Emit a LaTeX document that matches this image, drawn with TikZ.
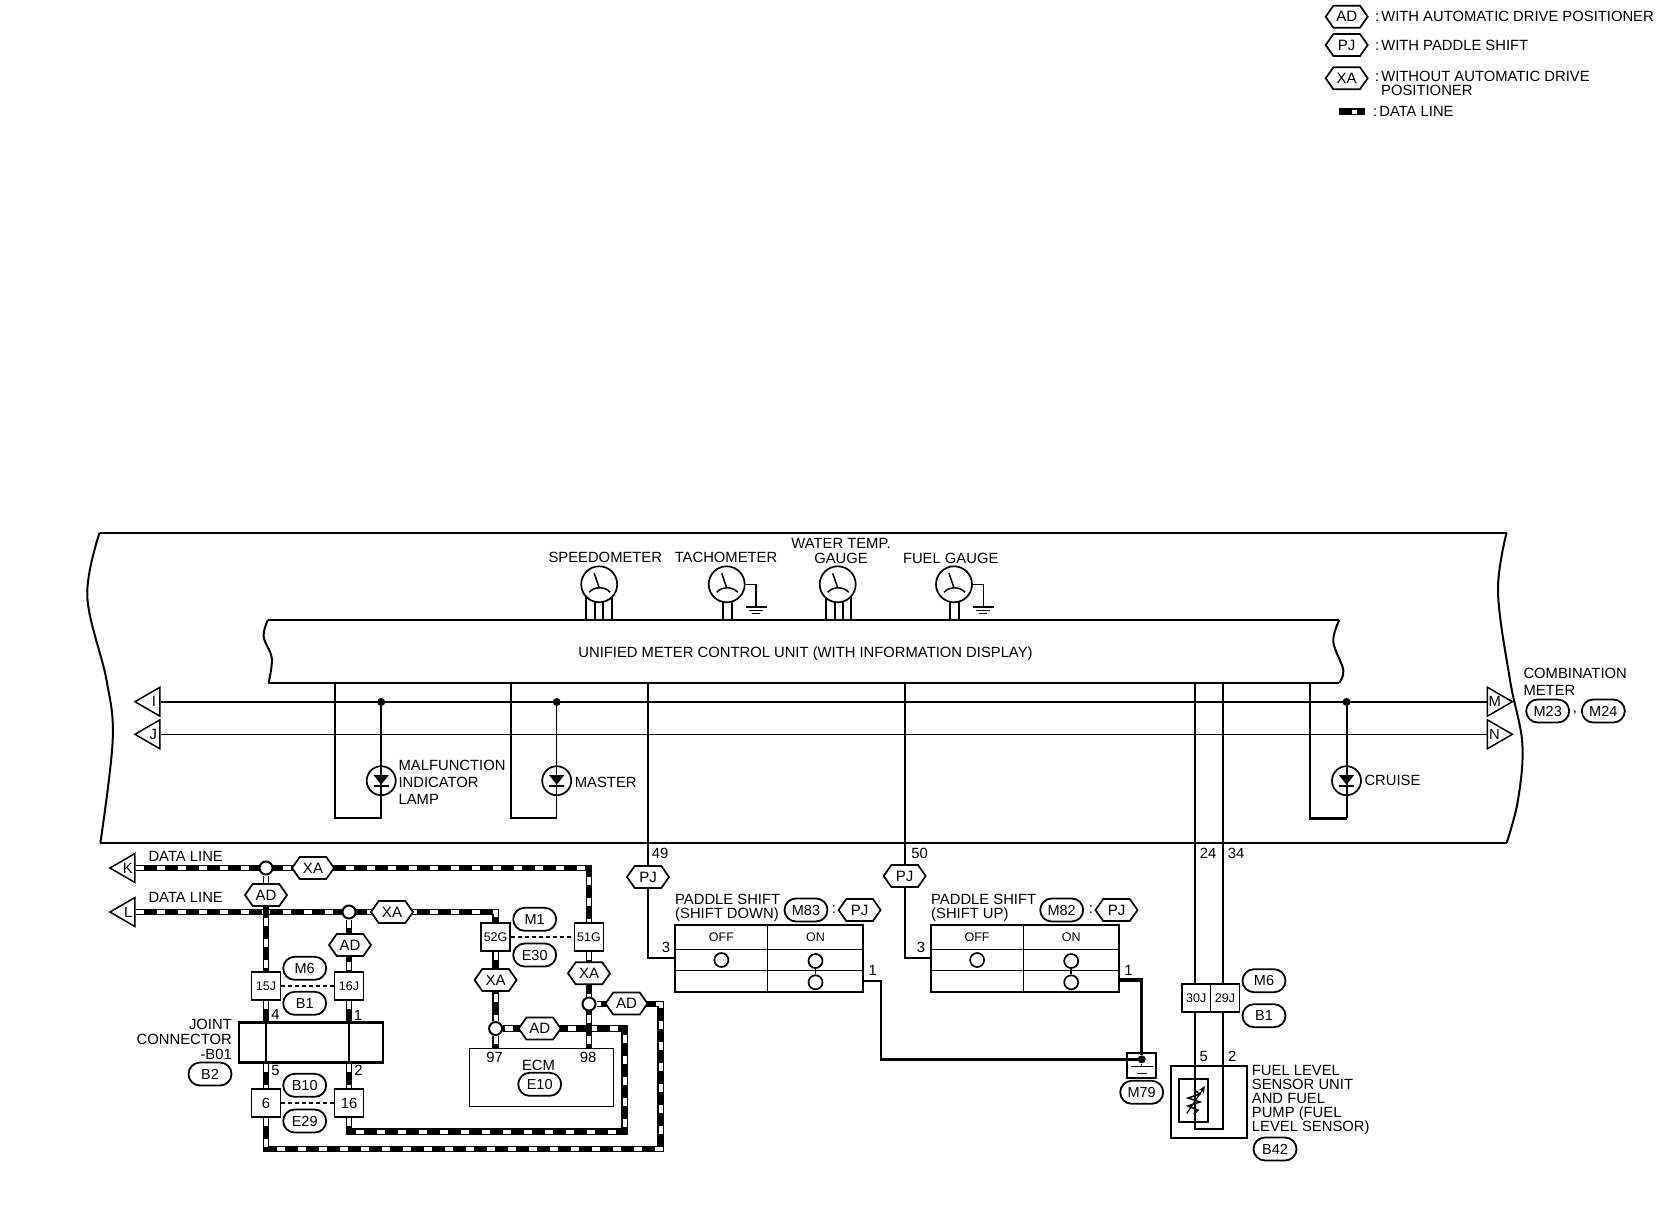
\documentclass[tikz,border=0pt]{standalone}
\usepackage{fontspec}
\setmainfont{Liberation Sans}
\usetikzlibrary{shapes.geometric}
\usetikzlibrary{shapes.misc}
\usetikzlibrary{shapes.symbols}
\usetikzlibrary{backgrounds}
\usetikzlibrary{arrows.meta}

\begin{document}
\begin{tikzpicture}[x=1pt,y=-1pt]
% définition des paramètres
\tikzset{
  every node/.style={inner sep=0pt,font=\fontsize{14.8}{14}\selectfont},
  filfin/.style={color=black,line width=1pt},
  filnormal/.style={color=black,line width=2pt},
  filepais/.style={color=black,line width=3.5pt},
  fildonnee/.style={draw=white,line width=4.2pt,dash pattern=on 8pt off 13pt,preaction={draw=black,line width=6.5pt,solid}},
  filpoint/.style={color=black,line width=1.3pt,dash pattern=on 4pt off 3pt},
  hexoption/.style={draw,fill=white,line width=1.7pt,shape=signal,signal to=east and west,signal pointer angle=110,minimum width=42pt,minimum height=22pt,font=\fontsize{15}{15}\selectfont},
  pastille/.style={draw,fill=white,line width=1.8pt,rounded rectangle,minimum width=43pt,minimum height=23pt,font=\fontsize{14.5}{14}\selectfont},
  boiteconn/.style={draw,fill=white,line width=1.8pt,minimum width=29pt,minimum height=28pt,font=\fontsize{12.5}{12}\selectfont},
  jonction/.style={draw,fill=white,line width=2pt,circle,minimum size=13pt},
  pointnoir/.style={fill=black,circle,minimum size=8pt},
  cadran/.style={draw,fill=white,line width=1.7pt,circle,minimum size=36pt},
  lampe/.style={draw,line width=1.7pt,circle,minimum size=29pt},
  fleche/.style={draw,fill=white,line width=1.5pt,isosceles triangle,isosceles triangle stretches,minimum height=25pt,minimum width=29pt},
  contact/.style={draw,line width=1.7pt,circle,minimum size=14pt},
  txtpetit/.style={font=\fontsize{12.5}{12}\selectfont},
  txtgauche/.style={anchor=west,align=left}
}
\useasboundingbox (0,0) rectangle (1660,1216);
% la légende
\node[hexoption] (legad) at (1346.7,16.7) {AD};
\node[hexoption] (legpj) at (1346.7,45) {PJ};
\node[hexoption] (legxa) at (1346.7,78.3) {XA};
\node[txtgauche] (legtxtad) at (1375,16) {:\hspace{2pt}WITH AUTOMATIC DRIVE POSITIONER};
\node[txtgauche] (legtxtpj) at (1375,45) {:\hspace{2pt}WITH PADDLE SHIFT};
\node[txtgauche] (legtxtxa) at (1375,76) {:\hspace{2pt}WITHOUT AUTOMATIC DRIVE};
\node[txtgauche] (legtxtxb) at (1381,90.7) {POSITIONER};
\node[txtgauche] (legtxtdo) at (1373,111.7) {:\hspace{2pt}DATA LINE};
\coordinate (legdoa) at (1339,111.7);
\coordinate (legdob) at (1365,111.7);
\draw[fildonnee,dash pattern=on 0pt off 13pt on 5pt off 20pt] (legdoa) -- (legdob);
% le cadre du compteur
\draw[filnormal] plot[smooth,tension=0.6] coordinates {(99.6,532.7) (87.3,596.7) (106.5,680) (112.7,740) (100.4,842.7)};
\draw[filnormal] plot[smooth,tension=0.6] coordinates {(1506.6,532.7) (1498,592) (1510,680) (1522.3,743.3) (1518,800) (1506.7,842.7)};
\draw[filnormal] (99.6,532.7) -- (1506.6,532.7);
\draw[filnormal] (100.4,842.7) -- (1506.7,842.7);
% le bloc central
\node (unit) at (803.5,651.35) [minimum width=1071.5pt,minimum height=62.7pt] {};
\node (txtunit) at (805.5,653.3) {UNIFIED METER CONTROL UNIT (WITH INFORMATION DISPLAY)};
\draw[filnormal] (unit.north west) -- (unit.north east);
\draw[filnormal] (unit.south west) -- (unit.south east);
\draw[filnormal] plot[smooth,tension=0.6] coordinates {(267.8,620) (263.7,636.7) (271.8,658.3) (268.6,682.7)};
\draw[filnormal] plot[smooth,tension=0.6] coordinates {(1339.3,620) (1333.3,641.7) (1343.3,670) (1339.3,682.7)};
\foreach \nom/\x in {umil/335,umaster/510.6,u49/648,u50/904.7,u24/1194.5,u34/1222.6,ucruise/1310}
    \coordinate (\nom) at (\x,682.7);
% les cadrans
\node[anchor=center] (txtspeed) at (605.3,557.7) {SPEEDOMETER};
\node[anchor=center] (txttacho) at (726,557.7) {TACHOMETER};
\node[align=center] (txtwater) at (841,550.5) {WATER TEMP.\\[1pt]GAUGE};
\node[anchor=center] (txtfuel) at (950.7,558.3) {FUEL GAUGE};
\foreach \nom/\x in {gspeed/599.2,gtacho/726.7,gwater/837.7,gfuel/954}{
    \node[cadran] (\nom) at (\x,584.3) {};
    \draw[line width=1.5pt] (\nom.center) ++(-5,-11) -- ++(5,14.5);
    \draw[line width=1.5pt] (\nom.center) ++(-10,8) .. controls ++(5,-6) and ++(-5,-6) .. ++(21,0);
}
\foreach \nom in {gtacho,gfuel}{
    \draw[line width=1.3pt] (\nom.east) -- ++(10.5,0) -- ++(0,22.6);
    \draw[line width=1.5pt] (\nom.east) ++(0,22.6) -- ++(21,0);
    \draw[line width=1pt] (\nom.east) ++(3.5,25.9) -- ++(14,0);
    \draw[line width=1pt] (\nom.east) ++(6.5,29.2) -- ++(8,0);
}
% les lampes
\foreach \nom/\x in {lampmil/381.2,lampmaster/556.7,lampcruise/1346.5}{
    \node[lampe] (\nom) at (\x,780.7) {};
    \fill (\nom.center) ++(-7.5,-5.5) -- ++(15,0) -- ++(-7.5,9.5) -- cycle;
    \draw[line width=1.5pt] (\nom.center) ++(-7.5,5.5) -- ++(15,0);
}
\node[txtgauche] (txtmil) at (398.4,782) {MALFUNCTION\\[3pt]INDICATOR\\[3pt]LAMP};
\node[txtgauche] (txtmaster) at (574.7,782) {MASTER};
\node[txtgauche] (txtcruise) at (1364.3,780) {CRUISE};
\node[pointnoir] (dotmil) at (381.2,702) {};
\node[pointnoir] (dotmaster) at (556.7,702) {};
\node[pointnoir] (dotcruise) at (1346.5,702) {};
\coordinate (coinmil) at (381.2,818.3);
\coordinate (coinmaster) at (556.7,818.3);
\coordinate (coincruise) at (1346.5,818.3);
% les fleches
\node[fleche,shape border rotate=180,anchor=apex] (trii) at (133,701.7) {I};
\node[fleche,shape border rotate=180,anchor=apex] (trij) at (133,734.3) {J};
\node[fleche,anchor=apex] (trim) at (1514.3,701.7) {M};
\node[fleche,anchor=apex] (trin) at (1514.3,734.3) {N};
\node[fleche,shape border rotate=180,anchor=apex] (trik) at (108,868) {K};
\node[fleche,shape border rotate=180,anchor=apex] (tril) at (108,912) {L};
\node[txtgauche] (txtcombi) at (1523.3,682) {COMBINATION\\[3pt]METER};
\node[pastille] (pm23) at (1547.7,711) {M23};
\node (virg) at (1575,713) {,};
\node[pastille] (pm24) at (1603.3,711) {M24};
% les lignes de données
\node (txtdataa) at (185.7,856) {DATA LINE};
\node (txtdatab) at (185.7,897.7) {DATA LINE};
\node[jonction] (jk) at (266,868) {};
\node[jonction] (jl) at (349,912) {};
\node[jonction] (jecm) at (495.6,1028.5) {};
\node[jonction] (jecb) at (589,1004) {};
\node[hexoption] (hxa1) at (313,868) {XA};
\node[hexoption] (had1) at (266,895) {AD};
\node[hexoption] (hxa2) at (392,912) {XA};
\node[hexoption] (had2) at (350,945) {AD};
\node[hexoption] (hxa3) at (495.6,980) {XA};
\node[hexoption] (hxa4) at (589,973.3) {XA};
\node[hexoption] (had3) at (539.7,1028.5) {AD};
\node[hexoption] (had4) at (626.5,1003.5) {AD};
\node[boiteconn] (b15j) at (266,986) {15J};
\node[boiteconn] (b16j) at (349,986) {16J};
\node[boiteconn] (b52g) at (495.6,937) {52G};
\node[boiteconn] (b51g) at (589,937) {51G};
\node[boiteconn,font=\fontsize{14.8}{14}\selectfont] (b6) at (266,1103) {6};
\node[boiteconn,font=\fontsize{14.8}{14}\selectfont] (b16) at (349,1103) {16};
\node[pastille] (pm6) at (304.7,968.3) {M6};
\node[pastille] (pb1) at (304.7,1003.3) {B1};
\node[pastille] (pb10) at (304.7,1085.3) {B10};
\node[pastille] (pe29) at (304.7,1121) {E29};
\node[pastille] (pm1) at (534.7,919.3) {M1};
\node[pastille] (pe30) at (534.7,955) {E30};
\node[draw,fill=white,line width=2.5pt,minimum width=144pt,minimum height=39.6pt] (joint) at (311,1042.5) {};
\node[anchor=east,align=right] (txtjoint) at (232,1039.3) {JOINT\\[1pt]CONNECTOR\\[1pt]-B01};
\node[pastille] (pb2) at (210,1074) {B2};
\node (n4) at (275.6,1014) {4};
\node (n1) at (358,1015) {1};
\node (n5) at (275.6,1070) {5};
\node (n2) at (358.6,1070.7) {2};
\node[draw,fill=white,line width=1.5pt,minimum width=144pt,minimum height=58pt] (ecm) at (541.5,1077.7) {};
\node (n97) at (494.5,1057.7) {97};
\node (n98) at (588,1057.7) {98};
\node (txtecm) at (538.5,1065) {ECM};
\node[pastille] (pe10) at (539.7,1084.3) {E10};
\coordinate (coinA) at (624.6,1131.7);
\coordinate (coinB) at (660.6,1149);
% les contacteurs
\node[hexoption] (pj49) at (648,877) {PJ};
\node[hexoption] (pj50) at (904.7,876) {PJ};
\node (n49) at (660,853) {49};
\node (n50) at (919.7,853) {50};
\node (n24) at (1208,853) {24};
\node (n34) at (1236,853) {34};
\node[txtgauche] (txtdown) at (675,908) {PADDLE SHIFT\\(SHIFT DOWN)};
\node[txtgauche] (txtup) at (931,908) {PADDLE SHIFT\\(SHIFT UP)};
\node[pastille] (pm83) at (806,910) {M83};
\node (dpa) at (834,910) {:};
\node[hexoption] (pjd) at (859.6,910) {PJ};
\node[pastille] (pm82) at (1061.7,910) {M82};
\node (dpb) at (1090.8,910) {:};
\node[hexoption] (pju) at (1116.5,910) {PJ};
\node (n3a) at (666,947) {3};
\node (n3b) at (921,947) {3};
\node (n1a) at (872.7,970) {1};
\node (n1b) at (1128.6,970) {1};
\foreach \sw/\x in {swdown/769.2,swup/1024.9}{
    \node[draw,line width=2pt,fill=white,minimum width=187.6pt,minimum height=66.7pt] (\sw) at (\x,958.3) {};
    \draw[line width=1.5pt] (\sw.west) ++(0,-9) -- ++(187.6,0);
    \draw[line width=1.5pt] (\sw.west) ++(0,12.4) -- ++(187.6,0);
    \draw[line width=1pt] (\sw.north) ++(-1.7,0) -- ++(0,66.7);
    \node[txtpetit] (\sw off) at (\x-47.8,937) {OFF};
    \node[txtpetit] (\sw on) at (\x+46.3,937) {ON};
    \node[contact] (\sw a) at (\x-47.8,960) {};
    \node[contact] (\sw b) at (\x+46.3,961) {};
    \node[contact] (\sw c) at (\x+46.3,982.3) {};
    \draw[line width=1.5pt] (\sw b) -- (\sw c);
}
% la masse
\node[draw,line width=1.7pt,minimum width=29pt,minimum height=25.6pt] (m79box) at (1141.5,1065.5) {};
\node[pointnoir] (massedot) at (1141.7,1059.3) {};
\node[pastille] (pm79) at (1141.7,1092.3) {M79};
\draw[line width=1.3pt] (massedot) -- ++(0,7.4);
\draw[line width=1.5pt] (massedot) ++(-11,7.4) -- ++(22,0);
\draw[line width=1.5pt] (massedot) ++(-5,14) -- ++(10,0);
\coordinate (coude) at (881,1059.3);
% la jauge de carburant
\node[draw,line width=1.8pt,fill=white,minimum width=28.7pt,minimum height=28.3pt,txtpetit] (b30j) at (1196.2,998.2) {30J};
\node[draw,line width=1.8pt,fill=white,minimum width=29.1pt,minimum height=28.3pt,txtpetit] (b29j) at (1225,998.2) {29J};
\node[pastille] (pm6b) at (1264,980.7) {M6};
\node[pastille] (pb1b) at (1264,1015.7) {B1};
\node (n5b) at (1203.7,1056.7) {5};
\node (n2b) at (1232.3,1056.7) {2};
\node[draw,line width=1.7pt,minimum width=75.6pt,minimum height=72.6pt] (capteur) at (1209.1,1102) {};
\node[draw,line width=1.7pt,minimum width=29pt,minimum height=43.6pt] (resist) at (1193.5,1100.5) {};
\draw[line width=1.5pt] (1194,1090) -- (1200,1094) -- (1188,1098) -- (1200,1102) -- (1188,1106) -- (1198,1110) -- (1194,1114);
\draw[-{Stealth[length=7pt,width=6pt]},line width=1.2pt] (1186.7,1113.5) -- (1205,1086);
\node[txtgauche] (txtsens) at (1251.7,1099.7) {FUEL LEVEL\\SENSOR UNIT\\AND FUEL\\PUMP (FUEL\\LEVEL SENSOR)};
\node[pastille] (pb42) at (1275,1149) {B42};
\coordinate (boucleg) at (1194.5,1129);
\coordinate (boucled) at (1222.6,1129);
% les fils, derrière tout le reste
\begin{scope}[on background layer]
\foreach \dx in {-13,-4,4,13}
    \draw[filnormal,line width=1.7pt] (gspeed.center) ++(\dx,0) -- ++(0,35.7);
\foreach \dx in {-12,-3,5,13}
    \draw[filnormal,line width=1.7pt] (gwater.center) ++(\dx,0) -- ++(0,35.7);
\foreach \dx in {-4,5}{
    \draw[filnormal,line width=1.7pt] (gtacho.center) ++(\dx,0) -- ++(0,35.7);
    \draw[filnormal,line width=1.7pt] (gfuel.center) ++(\dx,0) -- ++(0,35.7);
}
\draw[filnormal] (trii.lower side) -- (trim.lower side);
\draw[filfin] (trij.lower side) -- (trin.lower side);
\draw[filnormal] (umil) |- (coinmil) -- (dotmil);
\draw[filnormal] (umaster) |- (coinmaster);
\draw[filfin] (coinmaster) -- (dotmaster);
\draw[filnormal,line width=2.5pt] (ucruise) |- (coincruise);
\draw[filnormal] (coincruise) -- (dotcruise);
\draw[filnormal] (u49) |- (swdown.west);
\draw[filnormal] (u50) |- (swup.west);
\draw[filnormal] (u24) -- (boucleg) -- (boucled) -- (u34);
\draw[filnormal,line width=2.5pt] ([yshift=-22.7pt]swdown.east) -| (coude) -- (massedot);
\draw[filepais] ([yshift=-21.7pt]swup.east) -| (massedot);
\draw[fildonnee] (trik.lower side) -| (b51g.north);
\draw[fildonnee] (tril.lower side) -| (b52g.north);
\draw[fildonnee] (jk) -- (b15j.north);
\draw[fildonnee] (jl) -- (b16j.north);
\draw[fildonnee] (b15j.south) -- (b15j.south |- joint.north);
\draw[fildonnee] (b16j.south) -- (b16j.south |- joint.north);
\draw[fildonnee] (b15j.south |- joint.south) -- (b6.north);
\draw[fildonnee] (b16j.south |- joint.south) -- (b16.north);
\draw[fildonnee] (b16.south) |- (coinA) |- (jecm);
\draw[fildonnee] (b6.south) |- (coinB) |- (jecb);
\draw[fildonnee] (b52g.south) -- (jecm) -- (jecm |- ecm.north);
\draw[fildonnee] (b51g.south) -- (b51g.south |- ecm.north);
\end{scope}
% les liaisons de connecteurs
\draw[filpoint] (b15j) -- (b16j);
\draw[filpoint] (b6) -- (b16);
\draw[filpoint] (b52g) -- (b51g);
\draw[line width=1.2pt] (b15j.south |- joint.north) -- (b15j.south |- joint.south);
\draw[line width=1.2pt] (b16j.south |- joint.north) -- (b16j.south |- joint.south);
\end{tikzpicture}
\end{document}
